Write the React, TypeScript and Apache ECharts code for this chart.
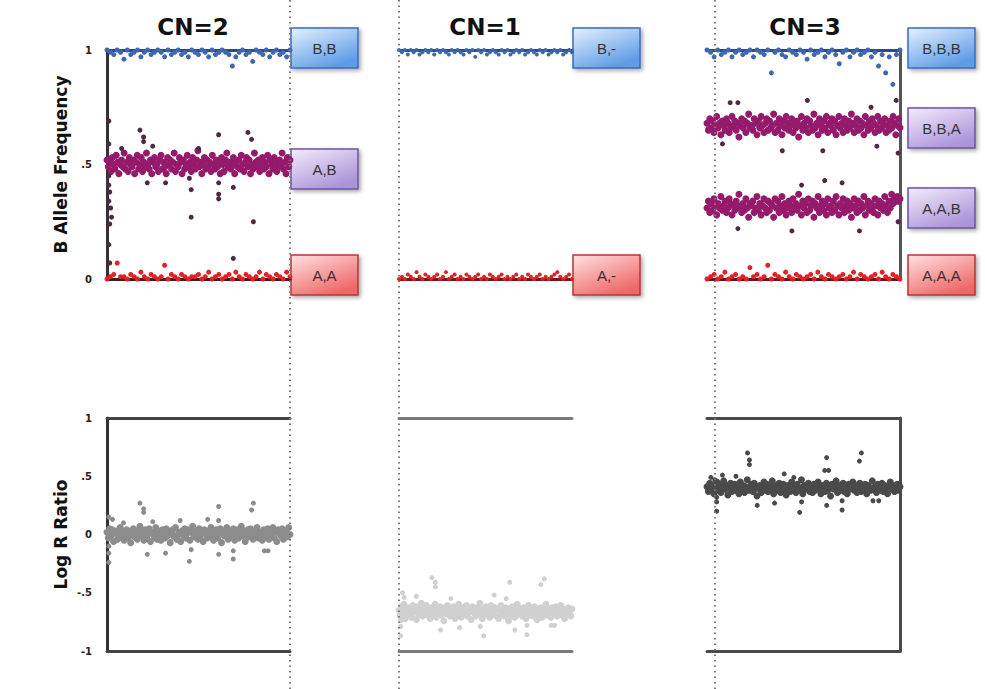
import React, { useEffect, useRef } from 'react';
import * as echarts from 'echarts';

// ---------- tick labels / titles ----------
const panelTitles = ['CN=2', 'CN=1', 'CN=3'];
const bafTickLabels: Record<string, string> = { '0': '0', '0.5': '.5', '1': '1' };
const lrrTickLabels: Record<string, string> = { '-1': '-1', '-0.5': '-.5', '0': '0', '0.5': '.5', '1': '1' };
const genotypeLabelsCN2 = ['B,B', 'A,B', 'A,A'];
const genotypeLabelsCN1 = ['B,-', 'A,-'];
const genotypeLabelsCN3 = ['B,B,B', 'B,B,A', 'A,A,B', 'A,A,A'];

// ---------- B allele frequency, CN=2 ----------
const cn2BB = [1.00,0.99,0.98,1.00,0.99,0.96,1.00,0.98,0.99,1.00,0.97,0.99,1.00,0.98,0.99,1.00,0.99,0.97,1.00,0.98,0.99,1.00,0.98,0.99,0.97,1.00,0.99,0.98,1.00,0.99,0.97,1.00,0.98,0.99,1.00,0.99,0.98,0.93,0.97,0.99,1.00,0.98,0.99,0.95,1.00,0.99,0.98,1.00,0.97,0.99,1.00,0.98,0.99,0.97,1.00];
const cn2AB = [0.52,0.49,0.51,0.47,0.53,0.50,0.48,0.54,0.51,0.46,0.50,0.52,0.49,0.55,0.48,0.51,0.47,0.53,0.50,0.49,
0.52,0.46,0.51,0.54,0.48,0.50,0.53,0.47,0.51,0.49,0.55,0.50,0.48,0.52,0.46,0.51,0.53,0.49,0.50,0.47,
0.52,0.54,0.48,0.51,0.49,0.46,0.53,0.50,0.52,0.48,0.51,0.55,0.47,0.50,0.49,0.53,0.51,0.46,0.52,0.48,
0.50,0.54,0.49,0.51,0.47,0.53,0.50,0.48,0.52,0.56,0.49,0.51,0.46,0.50,0.53,0.48,0.52,0.49,0.51,0.47,
0.54,0.50,0.48,0.52,0.49,0.51,0.46,0.53,0.50,0.47,0.52,0.55,0.49,0.51,0.48,0.50,0.53,0.46,0.51,0.49,
0.52,0.48,0.54,0.50,0.47,0.51,0.53,0.49,0.52,0.46,0.50,0.48,0.55,0.51,0.49,0.52,0.47,0.50,0.53,0.48,
0.51,0.49,0.54,0.46,0.52,0.50,0.48,0.53,0.51,0.47,0.49,0.52,0.50,0.55,0.48,0.51,0.46,0.53,0.49,0.52];
const cn2AA = [0.00,0.01,0.02,0.07,0.01,0.01,0.00,0.02,0.01,0.00,0.03,0.01,0.00,0.02,0.01,0.00,0.01,0.06,0.00,0.02,0.01,0.00,0.02,0.01,0.00,0.01,0.01,0.02,0.00,0.01,0.03,0.00,0.01,0.02,0.00,0.01,0.02,0.00,0.03,0.01,0.00,0.02,0.01,0.00,0.01,0.03,0.00,0.02,0.01,0.00,0.02,0.01,0.00,0.03,0.01];
const cn2BafOutliers = [[1,0.69],[1,0.59],[1,0.45],[1,0.41],[1.5,0.38],[1,0.34],[2,0.31],[2.5,0.27],[1.5,0.24],[1,0.15],[1.5,0.07],
[18,0.65],[20,0.62],[20,0.6],[61,0.63],[77,0.64],[79,0.61],[8,0.57],[25,0.58],[50,0.57],
[22,0.42],[32,0.42],[45,0.44],[46,0.39],[61,0.42],[61,0.37],[61,0.35],[69,0.4],
[46,0.27],[80,0.25],[69,0.09]];

// ---------- B allele frequency, CN=1 ----------
const cn1B = [1.00,0.99,1.00,0.98,1.00,0.99,1.00,0.98,0.99,1.00,0.99,1.00,0.98,1.00,0.99,1.00,0.99,0.98,1.00,0.99,1.00,0.99,0.98,1.00,0.99,1.00,0.97,1.00,0.99,1.00,0.98,0.99,1.00,0.99,0.98,1.00,0.99,1.00,0.98,0.99,1.00,0.99,1.00,0.98,0.99,1.00,0.99,0.98,1.00,0.99,1.00,0.98,0.99,1.00,0.99,1.00,0.98,0.99,1.00,0.99];
const cn1A = [0.00,0.01,0.00,0.02,0.01,0.00,0.03,0.01,0.00,0.02,0.01,0.00,0.01,0.02,0.00,0.01,0.03,0.00,0.01,0.02,0.00,0.01,0.00,0.02,0.01,0.00,0.01,0.02,0.00,0.01,0.00,0.02,0.01,0.00,0.01,0.02,0.00,0.01,0.00,0.01,0.02,0.00,0.01,0.00,0.02,0.01,0.00,0.01,0.02,0.00,0.01,0.00,0.01,0.02,0.03,0.01,0.00,0.01,0.02,0.00];

// ---------- B allele frequency, CN=3 ----------
const cn3BBB = [1.00,0.99,0.97,1.00,0.98,0.99,1.00,0.97,0.99,1.00,0.98,0.99,1.00,0.97,1.00,0.99,0.98,1.00,0.90,0.99,1.00,0.98,0.97,1.00,0.99,0.98,1.00,0.99,0.96,1.00,0.98,0.99,1.00,0.97,0.99,1.00,0.98,0.94,0.99,1.00,0.97,0.99,1.00,0.98,0.99,1.00,0.97,0.99,0.93,0.98,0.90,0.97,0.85,0.98,1.00];
const cn3BBA = [0.68,0.65,0.70,0.66,0.69,0.64,0.67,0.71,0.66,0.68,0.63,0.69,0.67,0.65,0.70,0.68,0.64,0.66,0.71,0.67,
0.69,0.65,0.68,0.62,0.67,0.70,0.66,0.69,0.64,0.68,0.72,0.66,0.67,0.65,0.70,0.68,0.63,0.69,0.66,0.71,
0.67,0.64,0.68,0.70,0.65,0.69,0.66,0.67,0.72,0.64,0.68,0.65,0.70,0.67,0.63,0.69,0.66,0.71,0.68,0.65,
0.67,0.70,0.64,0.68,0.66,0.69,0.62,0.67,0.71,0.65,0.68,0.66,0.70,0.64,0.69,0.67,0.65,0.72,0.66,0.68,
0.63,0.70,0.67,0.65,0.69,0.66,0.71,0.64,0.68,0.67,0.70,0.65,0.69,0.63,0.67,0.71,0.66,0.68,0.64,0.70,
0.67,0.65,0.69,0.66,0.72,0.68,0.64,0.67,0.70,0.65,0.69,0.66,0.68,0.63,0.71,0.67,0.65,0.69,0.66,0.70,
0.68,0.64,0.67,0.71,0.65,0.69,0.66,0.68,0.70,0.64,0.67,0.65,0.69,0.66,0.71,0.68,0.63,0.67,0.70,0.66];
const cn3AAB = [0.31,0.34,0.29,0.33,0.30,0.35,0.32,0.28,0.33,0.31,0.36,0.30,0.32,0.34,0.29,0.31,0.35,0.33,0.28,0.32,
0.30,0.34,0.31,0.37,0.32,0.29,0.33,0.30,0.35,0.31,0.27,0.33,0.32,0.34,0.29,0.31,0.36,0.30,0.33,0.28,
0.32,0.35,0.31,0.29,0.34,0.30,0.33,0.32,0.27,0.35,0.31,0.34,0.29,0.32,0.36,0.30,0.33,0.28,0.31,0.34,
0.32,0.29,0.35,0.31,0.33,0.30,0.37,0.32,0.28,0.34,0.31,0.33,0.29,0.35,0.30,0.32,0.34,0.27,0.33,0.31,
0.36,0.29,0.32,0.34,0.30,0.33,0.28,0.35,0.31,0.32,0.29,0.34,0.30,0.36,0.32,0.28,0.33,0.31,0.35,0.29,
0.32,0.34,0.30,0.33,0.27,0.31,0.35,0.32,0.29,0.34,0.30,0.33,0.31,0.36,0.28,0.32,0.34,0.30,0.33,0.31,
0.29,0.35,0.32,0.28,0.34,0.31,0.33,0.30,0.36,0.32,0.29,0.34,0.31,0.37,0.33,0.35,0.34,0.36,0.34,0.35];
const cn3AAA = [0.00,0.01,0.02,0.00,0.01,0.03,0.00,0.01,0.02,0.00,0.01,0.00,0.05,0.01,0.02,0.00,0.01,0.06,0.00,0.02,0.01,0.00,0.03,0.01,0.00,0.02,0.01,0.00,0.01,0.02,0.00,0.03,0.01,0.00,0.02,0.01,0.00,0.01,0.02,0.00,0.01,0.03,0.00,0.02,0.01,0.00,0.01,0.02,0.00,0.03,0.01,0.00,0.02,0.01,0.00];
const cn3BafOutliers = [[12,0.77],[16,0.77],[52,0.78],[98,0.78],[85,0.75],[8,0.59],[39,0.56],[60,0.56],[88,0.58],[99,0.55],
[61,0.43],[70,0.42],[49,0.41],[16,0.22],[44,0.21],[79,0.21],[99,0.25]];

// ---------- Log R ratio ----------
const cn2Lrr = [0.02,-0.03,0.05,-0.01,0.04,-0.06,0.01,0.03,-0.04,0.00,0.06,-0.02,0.03,-0.05,0.01,0.04,-0.03,0.02,-0.07,0.00,
0.05,-0.02,0.03,-0.04,0.01,0.07,-0.01,0.02,-0.05,0.04,-0.03,0.00,0.05,-0.06,0.02,0.01,-0.02,0.06,-0.04,0.03,
0.00,-0.05,0.04,0.02,-0.03,0.05,-0.01,0.03,-0.07,0.01,0.04,-0.02,0.06,-0.04,0.00,0.02,-0.06,0.03,-0.01,0.05,
-0.03,0.01,0.04,-0.05,0.02,0.07,-0.02,0.00,0.03,-0.04,0.05,-0.01,0.02,-0.06,0.04,0.01,-0.03,0.03,-0.02,0.06,
0.00,-0.05,0.02,0.04,-0.03,0.01,0.05,-0.07,0.03,-0.01,0.02,0.06,-0.04,0.00,0.03,-0.02,0.05,-0.05,0.01,0.04,
-0.03,0.02,0.07,-0.01,0.03,-0.06,0.00,0.04,-0.02,0.05,0.01,-0.04,0.03,-0.01,0.06,-0.03,0.02,0.00,-0.05,0.04,
0.01,-0.02,0.05,-0.04,0.03,0.00,0.06,-0.03,0.02,-0.06,0.04,0.01,-0.01,0.05,-0.04,0.02,0.03,-0.02,0.06,0.00];
const cn2LrrOutliers = [[18,0.27],[20,0.22],[20,0.19],[61,0.24],[80,0.27],[79,0.21],[22,-0.17],[32,-0.16],[45,-0.23],[46,-0.13],
[61,-0.17],[69,-0.21],[69,-0.14],[86,-0.14],[88,-0.14],[1,-0.1],[1,-0.16],[1,-0.24],[1,0.15],[3,0.13],[9,0.1],[25,0.11],
[40,0.12],[55,0.13],[61,0.12]];
const cn1Lrr = [-0.65,-0.70,-0.62,-0.67,-0.60,-0.72,-0.66,-0.63,-0.69,-0.64,-0.71,-0.61,-0.67,-0.65,-0.73,-0.62,-0.68,-0.66,-0.59,-0.70,
-0.64,-0.67,-0.61,-0.69,-0.65,-0.72,-0.63,-0.68,-0.66,-0.60,-0.71,-0.64,-0.67,-0.62,-0.69,-0.65,-0.74,-0.63,-0.68,-0.61,
-0.66,-0.70,-0.64,-0.67,-0.62,-0.72,-0.65,-0.69,-0.60,-0.66,-0.71,-0.63,-0.68,-0.65,-0.61,-0.70,-0.66,-0.64,-0.73,-0.62,
-0.67,-0.65,-0.70,-0.63,-0.68,-0.59,-0.66,-0.72,-0.64,-0.69,-0.62,-0.67,-0.65,-0.71,-0.61,-0.68,-0.66,-0.63,-0.70,-0.64,
-0.72,-0.65,-0.61,-0.68,-0.66,-0.70,-0.63,-0.67,-0.74,-0.64,-0.69,-0.62,-0.66,-0.71,-0.65,-0.60,-0.68,-0.64,-0.67,-0.70,
-0.63,-0.66,-0.72,-0.65,-0.61,-0.69,-0.64,-0.67,-0.70,-0.62,-0.66,-0.73,-0.65,-0.68,-0.63,-0.71,-0.64,-0.67,-0.60,-0.69,
-0.66,-0.64,-0.71,-0.63,-0.68,-0.65,-0.62,-0.70,-0.66,-0.67,-0.61,-0.69,-0.64,-0.72,-0.65,-0.68,-0.63,-0.66,-0.70,-0.64];
const cn1LrrOutliers = [[19,-0.37],[21,-0.41],[21,-0.45],[64,-0.41],[84,-0.38],[82,-0.43],[24,-0.82],[35,-0.8],[49,-0.87],[67,-0.82],
[74,-0.86],[74,-0.78],[88,-0.78],[90,-0.78],[47,-0.79],[1,-0.74],[1,-0.79],[1,-0.87],[2,-0.5],[3,-0.54],[10,-0.53],[30,-0.55],
[55,-0.52],[62,-0.55]];
const cn3Lrr = [0.41,0.37,0.44,0.39,0.42,0.35,0.40,0.45,0.38,0.43,0.36,0.41,0.46,0.39,0.42,0.34,0.40,0.44,0.37,0.41,
0.43,0.38,0.40,0.35,0.45,0.39,0.42,0.36,0.41,0.47,0.38,0.40,0.43,0.37,0.44,0.39,0.33,0.41,0.42,0.36,
0.40,0.45,0.38,0.43,0.37,0.41,0.39,0.46,0.35,0.42,0.40,0.38,0.44,0.36,0.41,0.43,0.39,0.34,0.42,0.40,
0.37,0.45,0.39,0.41,0.36,0.43,0.40,0.38,0.47,0.35,0.42,0.39,0.41,0.44,0.37,0.40,0.36,0.43,0.38,0.41,
0.45,0.39,0.35,0.42,0.40,0.37,0.44,0.38,0.41,0.33,0.43,0.39,0.40,0.46,0.36,0.42,0.38,0.41,0.44,0.37,
0.40,0.35,0.43,0.39,0.41,0.45,0.38,0.42,0.36,0.40,0.44,0.37,0.41,0.39,0.43,0.35,0.42,0.40,0.38,0.46,
0.39,0.41,0.36,0.43,0.40,0.38,0.44,0.37,0.42,0.40,0.35,0.41,0.45,0.39,0.42,0.37,0.40,0.43,0.38,0.41];
const cn3LrrOutliers = [[21,0.70],[22,0.64],[22,0.60],[62,0.66],[80,0.70],[79,0.63],[61,0.55],[63,0.55],[26,0.25],[35,0.27],
[48,0.19],[49,0.28],[62,0.25],[70,0.21],[70,0.29],[86,0.29],[89,0.29],[5,0.32],[5,0.28],[5,0.2],[2,0.49],[4,0.47],[8,0.51],
[15,0.5],[40,0.52],[45,0.49]];

// ---------- colours ----------
const BLUE = '#3f66b0';
const PURPLE = '#951a6c';
const OUTLIER = '#4b2a44';
const RED = '#e42025';

const ordered = (arr: number[]) => arr.map((v, i) => [(i * 100) / (arr.length - 1), v]);

function scatter(g: number, data: number[][], color: string, size = 5, z = 2) {
  return {
    type: 'scatter',
    xAxisIndex: g,
    yAxisIndex: g,
    data,
    symbolSize: size,
    itemStyle: { color, opacity: 1 },
    clip: false,
    silent: true,
    z,
  };
}

function buildOption() {
  const TOP = { top: 50, height: 229 };
  const BOT = { top: 418, height: 233 };
  const grids = [
    { left: 107, width: 183, ...TOP },
    { left: 399, width: 173, ...TOP },
    { left: 707, width: 193, ...TOP },
    { left: 107, width: 183, ...BOT },
    { left: 399, width: 173, ...BOT },
    { left: 707, width: 193, ...BOT },
  ];
  const lineCol = ['#3a1f22', '#6a1b1b', '#5a1b1b', '#444', '#7a7a7a', '#4a4a4a'];
  const topCol = ['#2b4a8e', '#2b4a8e', '#2b4a8e', '#444', '#7a7a7a', '#4a4a4a'];
  const xAxes: any[] = [];
  grids.forEach((_, g) => {
    xAxes.push({
      gridIndex: g, type: 'value', min: 0, max: 100, position: 'bottom',
      axisLine: { show: true, onZero: false, lineStyle: { color: lineCol[g], width: 3 } },
      axisTick: { show: false }, axisLabel: { show: false }, splitLine: { show: false },
    });
  });
  grids.forEach((_, g) => {
    xAxes.push({
      gridIndex: g, type: 'value', min: 0, max: 100, position: 'top',
      axisLine: { show: true, onZero: false, lineStyle: { color: topCol[g], width: 3 } },
      axisTick: { show: false }, axisLabel: { show: false }, splitLine: { show: false },
    });
  });
  const labelStyle = { fontSize: 10, fontWeight: 'bold', color: '#222', fontFamily: 'DejaVu Sans', margin: 15 };
  const nameStyle = { fontSize: 17, fontWeight: 'bold', color: '#111', fontFamily: 'DejaVu Sans' };
  const yAxes: any[] = grids.map((_, g) => {
    const isTop = g < 3;
    const first = g === 0 || g === 3;
    return {
      gridIndex: g, type: 'value',
      min: isTop ? 0 : -1, max: 1, interval: 0.5, position: 'left',
      name: first ? (isTop ? 'B Allele Frequency' : 'Log R Ratio') : '',
      nameLocation: 'middle', nameRotate: 90, nameGap: 38, nameTextStyle: nameStyle,
      axisLine: { show: first, onZero: false, lineStyle: { color: '#333', width: 3 } },
      axisTick: { show: false },
      splitLine: { show: false },
      axisLabel: {
        show: first, ...labelStyle,
        formatter: (v: number) => (isTop ? bafTickLabels : lrrTickLabels)[String(v)] ?? '',
      },
    };
  });
  yAxes.push({
    gridIndex: 2, type: 'value', min: 0, max: 1, position: 'right',
    axisLine: { show: true, onZero: false, lineStyle: { color: '#555', width: 3 } },
    axisTick: { show: false }, axisLabel: { show: false }, splitLine: { show: false },
  });
  yAxes.push({
    gridIndex: 5, type: 'value', min: -1, max: 1, position: 'right',
    axisLine: { show: true, onZero: false, lineStyle: { color: '#4a4a4a', width: 3 } },
    axisTick: { show: false }, axisLabel: { show: false }, splitLine: { show: false },
  });

  const series = [
    scatter(0, ordered(cn2BB), BLUE),
    scatter(0, ordered(cn2AB), PURPLE, 7),
    scatter(0, ordered(cn2AA), RED),
    scatter(0, cn2BafOutliers, OUTLIER, 5, 3),
    scatter(1, ordered(cn1B), BLUE, 4),
    scatter(1, ordered(cn1A), RED, 4),
    scatter(2, ordered(cn3BBB), BLUE),
    scatter(2, ordered(cn3BBA), PURPLE, 7),
    scatter(2, ordered(cn3AAB), PURPLE, 7),
    scatter(2, ordered(cn3AAA), RED),
    scatter(2, cn3BafOutliers, OUTLIER, 5, 3),
    scatter(3, ordered(cn2Lrr), '#8c8c8c', 7),
    scatter(3, cn2LrrOutliers, '#8c8c8c', 5),
    scatter(4, ordered(cn1Lrr), '#d0d0d0', 7),
    scatter(4, cn1LrrOutliers, '#d0d0d0', 5),
    scatter(5, ordered(cn3Lrr), '#4a4a4a', 7),
    scatter(5, cn3LrrOutliers, '#4a4a4a', 5),
  ];

  const gradients: Record<string, [string, string, string]> = {
    blue: ['#e6f1fe', '#5e9be6', '#3a6cbf'],
    purple: ['#f3ecfc', '#ab94d8', '#6a559e'],
    red: ['#ffe2e2', '#ee6868', '#b83434'],
  };
  const box = (x: number, y: number, text: string, kind: string) => {
    const [c0, c1, b] = gradients[kind];
    return {
      type: 'group', x, y, z: 100,
      children: [
        {
          type: 'rect', shape: { x: 0, y: 0, width: 67, height: 40 },
          style: {
            fill: new echarts.graphic.LinearGradient(0, 0, 0.6, 1, [
              { offset: 0, color: c0 }, { offset: 1, color: c1 },
            ]),
            stroke: b, lineWidth: 1.5,
            shadowBlur: 4, shadowOffsetX: 2, shadowOffsetY: 2, shadowColor: 'rgba(0,0,0,0.35)',
          },
        },
        {
          type: 'text', x: 33.5, y: 20,
          style: { text, font: '15px "Liberation Sans", Arial', fill: '#333', align: 'center', verticalAlign: 'middle' },
        },
      ],
    };
  };
  const dotted = (x: number) => ({
    type: 'line', z: 50,
    shape: { x1: x, y1: 0, x2: x, y2: 689 },
    style: { stroke: '#7a7a7a', lineWidth: 2, lineDash: [1.5, 4] },
  });
  const title = (x: number, text: string) => ({
    type: 'text', x, y: 27, z: 100,
    style: { text, font: 'bold 23px "DejaVu Sans"', fill: '#111', align: 'center', verticalAlign: 'middle' },
  });

  const graphic = [
    dotted(290), dotted(399), dotted(715),
    title(193, panelTitles[0]), title(485, panelTitles[1]), title(805, panelTitles[2]),
    box(291, 28, genotypeLabelsCN2[0], 'blue'),
    box(291, 149, genotypeLabelsCN2[1], 'purple'),
    box(291, 255, genotypeLabelsCN2[2], 'red'),
    box(573, 28, genotypeLabelsCN1[0], 'blue'),
    box(573, 255, genotypeLabelsCN1[1], 'red'),
    box(908, 28, genotypeLabelsCN3[0], 'blue'),
    box(908, 108, genotypeLabelsCN3[1], 'purple'),
    box(908, 188, genotypeLabelsCN3[2], 'purple'),
    box(908, 255, genotypeLabelsCN3[3], 'red'),
  ];

  return {
    animation: false,
    backgroundColor: '#ffffff',
    grid: grids,
    xAxis: xAxes,
    yAxis: yAxes,
    series,
    graphic,
  };
}

export default function App() {
  const ref = useRef<HTMLDivElement>(null);
  useEffect(() => {
    document.body.style.margin = '0';
    const chart = echarts.init(ref.current!, null, { renderer: 'svg' });
    chart.setOption(buildOption() as any);
    return () => chart.dispose();
  }, []);
  return <div ref={ref} style={{ width: 985, height: 689 }} />;
}
